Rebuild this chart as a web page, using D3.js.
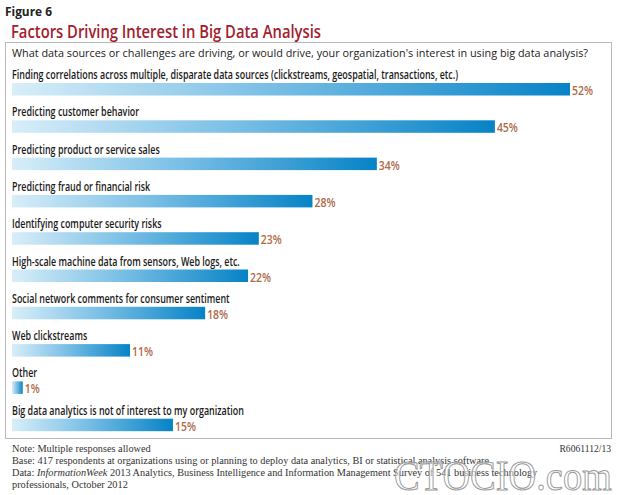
<!DOCTYPE html>
<html><head><meta charset="utf-8">
<script src="https://cdn.jsdelivr.net/npm/d3@7"></script>
<style>
body{margin:0;background:#fff;}
svg{display:block;}
</style></head>
<body><svg id="c" width="624" height="495"></svg>
<script>
const categories = [
  "Finding correlations across multiple, disparate data sources (clickstreams, geospatial, transactions, etc.)",
  "Predicting customer behavior",
  "Predicting product or service sales",
  "Predicting fraud or financial risk",
  "Identifying computer security risks",
  "High-scale machine data from sensors, Web logs, etc.",
  "Social network comments for consumer sentiment",
  "Web clickstreams",
  "Other",
  "Big data analytics is not of interest to my organization"
];
const values = [52, 45, 34, 28, 23, 22, 18, 11, 1, 15];
const valueLabels = values.map(v => v + "%");
const footnotes = [
  "Note: Multiple responses allowed",
  "Base: 417 respondents at organizations using or planning to deploy data analytics, BI or statistical analysis software",
  "2013 Analytics, Business Intelligence and Information Management Survey of 541 business technology",
  "professionals, October 2012"
];

const svg = d3.select("#c");
const sans = "'Open Sans','DejaVu Sans',sans-serif";
const serif = "'Liberation Serif','DejaVu Serif',serif";

function fitWidth(sel, target) {
  sel.attr("textLength", target).attr("lengthAdjust", "spacingAndGlyphs");
}
function squeeze(sel, factor) {
  sel.each(function() {
    const w = this.getComputedTextLength();
    d3.select(this).attr("textLength", w * factor).attr("lengthAdjust", "spacingAndGlyphs");
  });
}

// gradient
const defs = svg.append("defs");
const g = defs.append("linearGradient").attr("id","barGrad").attr("x1","0").attr("x2","1").attr("y1","0").attr("y2","0");
g.append("stop").attr("offset","0%").attr("stop-color","#d8eef9");
g.append("stop").attr("offset","45%").attr("stop-color","#7cc0e6");
g.append("stop").attr("offset","100%").attr("stop-color","#0683c6");

// titles
const fig = svg.append("text").attr("x",5).attr("y",16).attr("font-family",sans).attr("font-weight","bold")
  .attr("font-size",12).attr("fill","#222").text("Figure 6");
fitWidth(fig, 47);
const ttl = svg.append("text").attr("x",11).attr("y",38).attr("font-family",sans).attr("font-weight","600")
  .attr("font-size",18.5).attr("fill","#a3202e").text("Factors Driving Interest in Big Data Analysis");
fitWidth(ttl, 310);

// frame
svg.append("rect").attr("x",5.5).attr("y",42.5).attr("width",606).attr("height",396)
  .attr("fill","none").attr("stroke","#b8b8b8").attr("stroke-width",1);

const q = svg.append("text").attr("x",12).attr("y",57).attr("font-family",sans)
  .attr("font-size",11.5).attr("fill","#222")
  .text("What data sources or challenges are driving, or would drive, your organization's interest in using big data analysis?");
fitWidth(q, 576);

// scales
const x = d3.scaleLinear().domain([0, 52]).range([12, 570]);
const y = d3.scaleBand().domain(categories).range([64, 437]).paddingInner(0).paddingOuter(0);
const barH = 12.5;

const rows = svg.append("g").selectAll("g").data(categories).join("g")
  .attr("transform", d => `translate(0,${y(d)})`);

const labels = rows.append("text").attr("x",12).attr("y",15).attr("font-family",sans).attr("font-weight","600")
  .attr("font-size",12.2).attr("fill","#1a1a1a").text(d => d);
const w0 = labels.nodes()[0].getComputedTextLength();
squeeze(labels, 446 / w0);

rows.append("rect").attr("x", x(0)).attr("y",19)
  .attr("width",(d,i) => x(values[i]) - x(0)).attr("height",barH)
  .attr("fill","url(#barGrad)");

const pct = rows.append("text").attr("x",(d,i) => x(values[i]) + 2).attr("y",31)
  .attr("font-family",sans).attr("font-weight","600").attr("font-size",13)
  .attr("fill","#b06a4a").text((d,i) => valueLabels[i]);
const p0 = pct.nodes()[0].getComputedTextLength();
squeeze(pct, 21 / p0);

// footnotes
const fn = svg.append("g").attr("font-family",serif).attr("font-size",10.3).attr("fill","#333");
fn.append("text").attr("x",12).attr("y",452).text(footnotes[0]);
fn.append("text").attr("x",12).attr("y",464).text(footnotes[1]);
const t3 = fn.append("text").attr("x",12).attr("y",476);
t3.append("tspan").text("Data: ");
t3.append("tspan").attr("font-style","italic").text("InformationWeek");
t3.append("tspan").text(" " + footnotes[2]);
fn.append("text").attr("x",12).attr("y",488).text(footnotes[3]);
fn.append("text").attr("x",611).attr("y",452).attr("text-anchor","end").attr("font-size",9.6).text("R6061112/13");

// watermark
svg.append("text").attr("x",394).attr("y",490).attr("font-family",serif).attr("font-size",42)
  .attr("fill","rgba(255,255,255,0.55)").attr("stroke","#9a9a9a").attr("stroke-width",1)
  .attr("textLength",218).attr("lengthAdjust","spacingAndGlyphs").text("CTOCIO.com");
</script></body></html>
